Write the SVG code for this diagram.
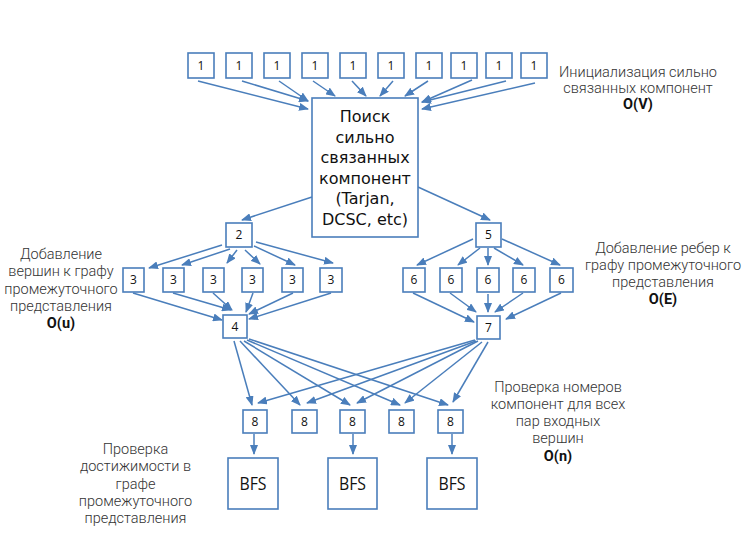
<svg xmlns="http://www.w3.org/2000/svg" width="750" height="545" viewBox="0 0 750 545">
<defs>
<marker id="ah" markerUnits="userSpaceOnUse" markerWidth="10" markerHeight="8" refX="9" refY="4" orient="auto">
<path d="M0,0 L10,4 L0,8 z" fill="#4a7ebb"/>
</marker>
<style>
.box{fill:#fff;stroke:#4a7ebb;stroke-width:1.6}
.num{font-family:"Open Sans","DejaVu Sans",sans-serif;font-size:12px;fill:#111;text-anchor:middle}
.main{font-family:"DejaVu Sans","Open Sans",sans-serif;font-size:16px;fill:#111;text-anchor:middle}
.bfs{font-family:"Open Sans","DejaVu Sans",sans-serif;font-size:19px;fill:#111;text-anchor:middle}
.lbl{font-family:Roboto,"Liberation Sans",sans-serif;font-weight:300;font-size:14.5px;fill:#333;text-anchor:middle}
.bold{font-weight:700;fill:#111}
#connectors line{stroke:#4a7ebb;stroke-width:1.5;marker-end:url(#ah)}
</style>
</defs>
<rect width="750" height="545" fill="#fff"/>

<g id="connectors">
<line x1="198" y1="81" x2="308" y2="109"/>
<line x1="242" y1="81" x2="308" y2="101"/>
<line x1="279" y1="81" x2="308" y2="101"/>
<line x1="313" y1="81" x2="335" y2="96"/>
<line x1="352" y1="81" x2="366" y2="96"/>
<line x1="393" y1="81" x2="380" y2="96"/>
<line x1="428" y1="81" x2="405" y2="96"/>
<line x1="472" y1="80" x2="422" y2="102"/>
<line x1="506" y1="81" x2="422" y2="102"/>
<line x1="535" y1="83" x2="422" y2="109"/>
<line x1="312" y1="197" x2="242" y2="220"/>
<line x1="418" y1="187" x2="490" y2="220"/>
<line x1="222" y1="245" x2="149" y2="268"/>
<line x1="230" y1="249" x2="182" y2="265"/>
<line x1="237" y1="250" x2="227" y2="263"/>
<line x1="245" y1="250" x2="260" y2="264"/>
<line x1="254" y1="246" x2="295" y2="265"/>
<line x1="256" y1="242" x2="333" y2="263"/>
<line x1="133" y1="293" x2="222" y2="320"/>
<line x1="173" y1="293" x2="231" y2="310"/>
<line x1="213" y1="293" x2="232" y2="310"/>
<line x1="253" y1="293" x2="246" y2="312"/>
<line x1="293" y1="293" x2="249" y2="314"/>
<line x1="331" y1="293" x2="249" y2="319"/>
<line x1="473" y1="239" x2="417" y2="265"/>
<line x1="480" y1="248" x2="458" y2="265"/>
<line x1="488" y1="248" x2="488" y2="265"/>
<line x1="494" y1="248" x2="523" y2="265"/>
<line x1="502" y1="239" x2="560" y2="265"/>
<line x1="413" y1="293" x2="474" y2="322"/>
<line x1="450" y1="293" x2="476" y2="312"/>
<line x1="488" y1="294" x2="488" y2="312"/>
<line x1="523" y1="293" x2="495" y2="312"/>
<line x1="561" y1="293" x2="506" y2="319"/>
<line x1="234" y1="341" x2="252" y2="405"/>
<line x1="240" y1="341" x2="300" y2="405"/>
<line x1="244" y1="341" x2="350" y2="405"/>
<line x1="247" y1="340" x2="400" y2="405"/>
<line x1="249" y1="339" x2="448" y2="405"/>
<line x1="475" y1="340" x2="258" y2="403"/>
<line x1="476" y1="341" x2="307" y2="403"/>
<line x1="478" y1="341" x2="357" y2="403"/>
<line x1="482" y1="342" x2="405" y2="403"/>
<line x1="488" y1="342" x2="453" y2="402"/>
<line x1="254" y1="434" x2="254" y2="454"/>
<line x1="353" y1="434" x2="353" y2="454"/>
<line x1="452" y1="434" x2="452" y2="454"/>
</g>

<g id="n1a"><rect class="box" x="188" y="53" width="26" height="25"/><text class="num" x="201" y="70">1</text></g>
<g id="n1b"><rect class="box" x="226" y="53" width="26" height="25"/><text class="num" x="239" y="70">1</text></g>
<g id="n1c"><rect class="box" x="264" y="53" width="26" height="25"/><text class="num" x="277" y="70">1</text></g>
<g id="n1d"><rect class="box" x="302" y="53" width="26" height="25"/><text class="num" x="315" y="70">1</text></g>
<g id="n1e"><rect class="box" x="340" y="53" width="26" height="25"/><text class="num" x="353" y="70">1</text></g>
<g id="n1f"><rect class="box" x="378" y="53" width="26" height="25"/><text class="num" x="391" y="70">1</text></g>
<g id="n1g"><rect class="box" x="416" y="53" width="26" height="25"/><text class="num" x="429" y="70">1</text></g>
<g id="n1h"><rect class="box" x="451" y="53" width="26" height="25"/><text class="num" x="464" y="70">1</text></g>
<g id="n1i"><rect class="box" x="486" y="53" width="26" height="25"/><text class="num" x="499" y="70">1</text></g>
<g id="n1j"><rect class="box" x="521" y="53" width="26" height="25"/><text class="num" x="534" y="70">1</text></g>

<g id="main"><rect class="box" x="312" y="98" width="106" height="139"/>
<text class="main" x="365"><tspan x="365" y="122">Поиск</tspan><tspan x="365" y="142.6">сильно</tspan><tspan x="365" y="163.2">связанных</tspan><tspan x="365" y="183.8">компонент</tspan><tspan x="365" y="204.4">(Tarjan,</tspan><tspan x="365" y="225">DCSC, etc)</tspan></text></g>

<g id="n2"><rect class="box" x="226" y="223" width="26" height="24"/><text class="num" x="239" y="239">2</text></g>
<g id="n5"><rect class="box" x="476" y="223" width="25" height="24"/><text class="num" x="488.5" y="239">5</text></g>

<g id="n3a"><rect class="box" x="123" y="268" width="21" height="24"/><text class="num" x="133.5" y="284">3</text></g>
<g id="n3b"><rect class="box" x="163" y="268" width="21" height="24"/><text class="num" x="173.5" y="284">3</text></g>
<g id="n3c"><rect class="box" x="203" y="268" width="21" height="24"/><text class="num" x="213.5" y="284">3</text></g>
<g id="n3d"><rect class="box" x="242" y="268" width="21" height="24"/><text class="num" x="252.5" y="284">3</text></g>
<g id="n3e"><rect class="box" x="282" y="268" width="21" height="24"/><text class="num" x="292.5" y="284">3</text></g>
<g id="n3f"><rect class="box" x="320" y="268" width="22" height="24"/><text class="num" x="331" y="284">3</text></g>

<g id="n6a"><rect class="box" x="403" y="268" width="22" height="24"/><text class="num" x="414" y="284">6</text></g>
<g id="n6b"><rect class="box" x="440" y="268" width="22" height="24"/><text class="num" x="451" y="284">6</text></g>
<g id="n6c"><rect class="box" x="477" y="268" width="22" height="24"/><text class="num" x="488" y="284">6</text></g>
<g id="n6d"><rect class="box" x="513" y="268" width="22" height="24"/><text class="num" x="524" y="284">6</text></g>
<g id="n6e"><rect class="box" x="550" y="268" width="23" height="24"/><text class="num" x="561.5" y="284">6</text></g>

<g id="n4"><rect class="box" x="223" y="315" width="24" height="23"/><text class="num" x="235" y="331">4</text></g>
<g id="n7"><rect class="box" x="477" y="316" width="23" height="23"/><text class="num" x="488.5" y="332">7</text></g>

<g id="n8a"><rect class="box" x="243" y="410" width="24" height="23"/><text class="num" x="255" y="426">8</text></g>
<g id="n8b"><rect class="box" x="292" y="410" width="25" height="23"/><text class="num" x="304.5" y="426">8</text></g>
<g id="n8c"><rect class="box" x="340" y="410" width="25" height="23"/><text class="num" x="352.5" y="426">8</text></g>
<g id="n8d"><rect class="box" x="389" y="410" width="25" height="23"/><text class="num" x="401.5" y="426">8</text></g>
<g id="n8e"><rect class="box" x="438" y="410" width="25" height="23"/><text class="num" x="450.5" y="426">8</text></g>

<g id="bfs1"><rect class="box" x="228" y="458" width="50" height="51"/><text class="bfs" x="253" y="490" textLength="27" lengthAdjust="spacingAndGlyphs">BFS</text></g>
<g id="bfs2"><rect class="box" x="328" y="458" width="49" height="51"/><text class="bfs" x="352.5" y="490" textLength="27" lengthAdjust="spacingAndGlyphs">BFS</text></g>
<g id="bfs3"><rect class="box" x="427" y="458" width="50" height="51"/><text class="bfs" x="452" y="490" textLength="27" lengthAdjust="spacingAndGlyphs">BFS</text></g>

<g id="label-init"><text class="lbl"><tspan x="638" y="77">Инициализация сильно</tspan><tspan x="638" y="92.5">связанных компонент</tspan><tspan class="bold" x="638" y="108.5">O(V)</tspan></text></g>
<g id="label-vertices"><text class="lbl"><tspan x="61" y="259">Добавление</tspan><tspan x="61" y="276.3">вершин к графу</tspan><tspan x="61" y="293.5">промежуточного</tspan><tspan x="61" y="310.8">представления</tspan><tspan class="bold" x="61" y="328">O(u)</tspan></text></g>
<g id="label-edges"><text class="lbl"><tspan x="663" y="252.5">Добавление ребер к</tspan><tspan x="663" y="269.5">графу промежуточного</tspan><tspan x="663" y="286.5">представления</tspan><tspan class="bold" x="663" y="303.5">O(E)</tspan></text></g>
<g id="label-check"><text class="lbl"><tspan x="558" y="392">Проверка номеров</tspan><tspan x="558" y="409">компонент для всех</tspan><tspan x="558" y="426">пар входных</tspan><tspan x="558" y="443">вершин</tspan><tspan class="bold" x="558" y="461">O(n)</tspan></text></g>
<g id="label-reach"><text class="lbl"><tspan x="135.5" y="454">Проверка</tspan><tspan x="135.5" y="471.3">достижимости в</tspan><tspan x="135.5" y="488.5">графе</tspan><tspan x="135.5" y="505.8">промежуточного</tspan><tspan x="135.5" y="523">представления</tspan></text></g>
</svg>
